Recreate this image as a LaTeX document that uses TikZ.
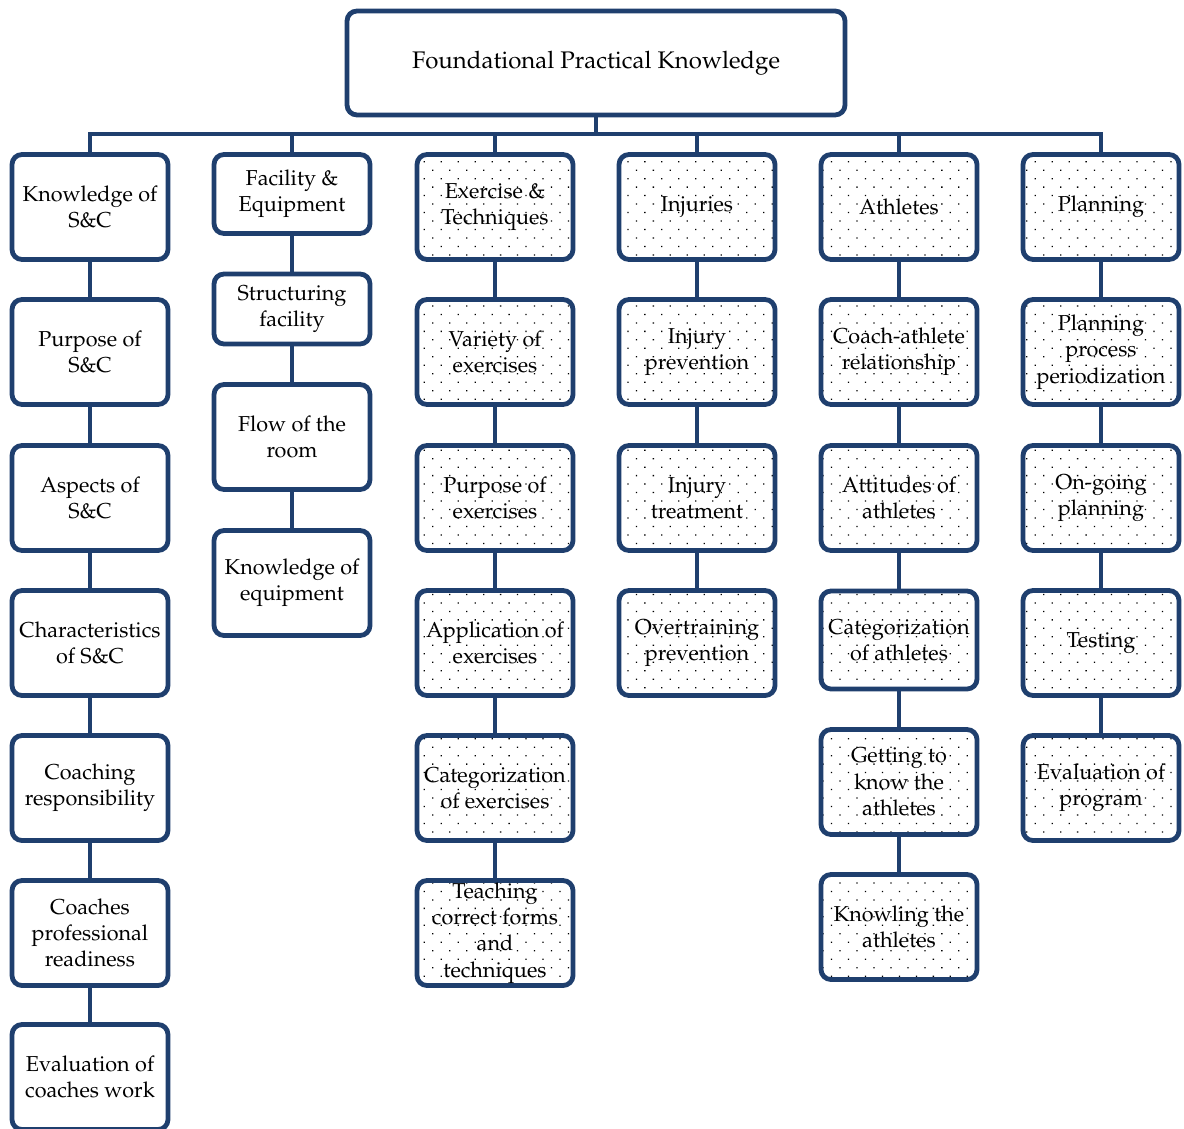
\documentclass[tikz,border=0pt]{standalone}
\usepackage[T1]{fontenc}
\usepackage{mathpazo}
\usetikzlibrary{patterns.meta}
\usetikzlibrary{scopes}
\definecolor{navy}{RGB}{31,63,110}

\begin{document}
\begin{tikzpicture}
  [x=0.5pt, y=-0.5pt,
   topic/.style={shape=rectangle, draw=navy, line width=2.4pt, rounded corners=5pt,
         align=center, inner sep=1pt, minimum width=78pt, minimum height=52.5pt,
         font=\fontsize{10.8}{13.2}\selectfont},
   dotbox/.style={topic, pattern={Dots[angle=45, distance=6pt, radius=0.45pt]}},
   link/.style={draw=navy, line width=2.4pt}
  ]
  \useasboundingbox (0,0) rectangle (1184,1129);

 \path
   (596, 63) node (fpk) [topic, minimum width=249pt, minimum height=52pt,
                         font=\fontsize{12}{14}\selectfont] {Foundational Practical Knowledge}
   {[current point is local] % first branch, strength and conditioning
      (90, 207) node (knowsc)   [topic] {Knowledge of\\S\&C}
      ++(0, 145) node (purpsc)  [topic] {Purpose of\\S\&C}
      ++(0, 146) node (aspsc)   [topic] {Aspects of\\S\&C}
      ++(0, 145) node (charsc)  [topic] {Characteristics\\of S\&C}
      ++(0, 145) node (coachresp) [topic] {Coaching\\responsibility}
      ++(0, 145) node (coachready) [topic] {Coaches\\professional\\readiness}
      ++(0, 144) node (evalcoach) [topic] {Evaluation of\\coaches work}
   }
   {[current point is local] % second branch, facility
      (292, 194) node (facility) [topic, minimum height=39.5pt] {Facility \&\\Equipment}
      ++(0, 115) node (structfac) [topic, minimum height=35pt] {Structuring\\facility}
      ++(0, 128) node (flowroom)  [topic] {Flow of the\\room}
      ++(0, 146) node (knowequip) [topic] {Knowledge of\\equipment}
   }
   {[current point is local] % third branch, exercises
      (495, 207) node (exercise) [dotbox] {Exercise \&\\Techniques}
      ++(0, 145) node (varex)    [dotbox] {Variety of\\exercises}
      ++(0, 146) node (purpex)   [dotbox] {Purpose of\\exercises}
      ++(0, 145) node (applex)   [dotbox] {Application of\\exercises}
      ++(0, 145) node (catex)    [dotbox] {Categorization\\of exercises}
      ++(0, 145) node (teachex)  [dotbox] {Teaching\\correct forms\\and\\techniques}
   }
   {[current point is local] % fourth branch, injuries
      (697, 207) node (injuries) [dotbox] {Injuries}
      ++(0, 145) node (injprev)  [dotbox] {Injury\\prevention}
      ++(0, 146) node (injtreat) [dotbox] {Injury\\treatment}
      ++(0, 145) node (overtrain) [dotbox] {Overtraining\\prevention}
   }
   {[current point is local] % fifth branch, athletes
      (899, 207) node (athletes) [dotbox] {Athletes}
      ++(0, 145) node (coachath) [dotbox] {Coach-athlete\\relationship}
      ++(0, 146) node (attath)   [dotbox] {Attitudes of\\athletes}
      ++(0, 142) node (catath)   [dotbox, minimum height=49pt] {Categorization\\of athletes}
      ++(0, 142) node (getknow)  [dotbox] {Getting to\\know the\\athletes}
      ++(0, 145) node (knowath)  [dotbox] {Knowling the\\athletes}
   }
   {[current point is local] % sixth branch, planning
      (1101, 207) node (planning) [dotbox] {Planning}
      ++(0, 145) node (planproc) [dotbox] {Planning\\process\\periodization}
      ++(0, 146) node (ongoing)  [dotbox] {On-going\\planning}
      ++(0, 145) node (testing)  [dotbox] {Testing}
      ++(0, 145) node (evalprog) [dotbox] {Evaluation of\\program}
   }
   ;
   \coordinate (bus) at (596, 134);
   \begin{scope}[link]
   \draw (fpk) -- (bus) -| (knowsc);
   \draw (bus) -| (facility);
   \draw (bus) -| (exercise);
   \draw (bus) -| (injuries);
   \draw (bus) -| (athletes);
   \draw (bus) -| (planning);
   \draw (knowsc) -- (purpsc);
   \draw (purpsc) -- (aspsc);
   \draw (aspsc) -- (charsc);
   \draw (charsc) -- (coachresp);
   \draw (coachresp) -- (coachready);
   \draw (coachready) -- (evalcoach);
   \draw (facility) -- (structfac);
   \draw (structfac) -- (flowroom);
   \draw (flowroom) -- (knowequip);
   \draw (exercise) -- (varex);
   \draw (varex) -- (purpex);
   \draw (purpex) -- (applex);
   \draw (applex) -- (catex);
   \draw (catex) -- (teachex);
   \draw (injuries) -- (injprev);
   \draw (injprev) -- (injtreat);
   \draw (injtreat) -- (overtrain);
   \draw (athletes) -- (coachath);
   \draw (coachath) -- (attath);
   \draw (attath) -- (catath);
   \draw (catath) -- (getknow);
   \draw (getknow) -- (knowath);
   \draw (planning) -- (planproc);
   \draw (planproc) -- (ongoing);
   \draw (ongoing) -- (testing);
   \draw (testing) -- (evalprog);
   \end{scope}

\end{tikzpicture}
\end{document}
